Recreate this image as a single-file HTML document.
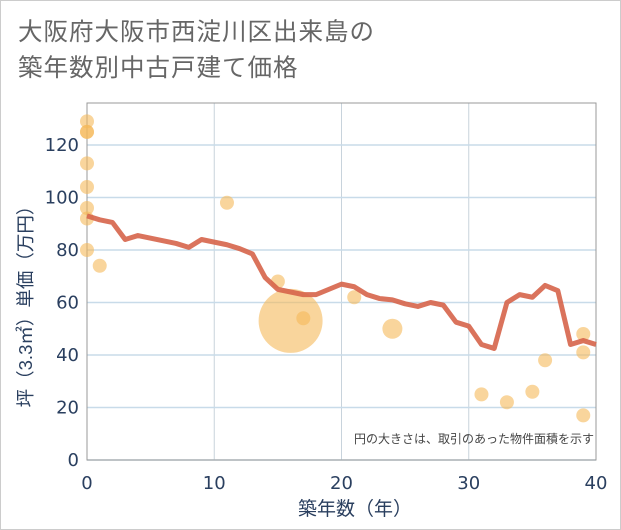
<!DOCTYPE html>
<html><head><meta charset="utf-8"><style>
body{margin:0;background:#fff;}
#wrap{width:619px;height:528px;border:1px solid #ccc;position:relative;background:#fff;font-family:"Liberation Sans","Noto Sans CJK JP",sans-serif;}
.title{position:absolute;left:17px;color:#666;font-size:24.5px;letter-spacing:1px;}
</style></head><body>
<div id="wrap">
<div class="title" style="top:12px">大阪府大阪市西淀川区出来島の</div>
<div class="title" style="top:48px">築年数別中古戸建て価格</div>
<svg id="chart" width="621" height="530" style="position:absolute;left:-1px;top:-1px"></svg>
</div>
<script>
const lineYears=[0,1,2,3,4,5,6,7,8,9,10,11,12,13,14,15,16,17,18,19,20,21,22,23,24,25,26,27,28,29,30,31,32,33,34,35,36,37,38,39,40];
const lineValues=[93,91.5,90.5,84,85.5,84.5,83.5,82.5,81,84,83,82,80.5,78.5,69.5,65,64,63,63,65,67,66,63,61.5,61,59.5,58.5,60,59,52.5,51,44,42.5,60,63,62,66.5,64.5,44,45.5,44];
const bubbleYears=[0,0,0,0,0,0,0,0,1,11,15,16,17,21,24,31,33,35,36,39,39,39];
const bubbleValues=[129,125,125,113,104,96,92,80,74,98,68,53,54,62,50,25,22,26,38,48,41,17];
const bubbleRadii=[7,7,7,7,7,7,7,7,7,7,7,32,7,7,10,7,7,7,7,7,7,7];
const xTicks=[0,10,20,30,40];
const yTicks=[0,20,40,60,80,100,120];
const L=87,R=596,T=103,B=460;
const xs=v=>L+(R-L)*v/40;
const ys=v=>B-(B-145)*v/120;
const svg=document.getElementById('chart');
const NS='http://www.w3.org/2000/svg';
const TF='"DejaVu Sans","Liberation Sans",sans-serif';
function mk(t,a){const e=document.createElementNS(NS,t);for(const k in a)e.setAttribute(k,a[k]);svg.appendChild(e);return e;}
xTicks.forEach(t=>{const g=mk('line',{x1:xs(t),x2:xs(t),y1:T,y2:B,stroke:'#c8d3dc','stroke-width':1});

const tx=mk('text',{x:xs(t),y:489,'text-anchor':'middle','font-size':18,fill:'#2a3f5f','font-family':TF});tx.textContent=t;
});
yTicks.forEach(t=>{const g=mk('line',{x1:L,x2:R,y1:ys(t),y2:ys(t),stroke:'#c8dbe9','stroke-width':1.5});

const tx=mk('text',{x:79,y:ys(t)+6,'text-anchor':'end','font-size':18,fill:'#2a3f5f','font-family':TF});tx.textContent=t;
});
const fr=mk('rect',{x:L,y:T,width:R-L,height:B-T,fill:'none',stroke:'#999','stroke-width':1});

bubbleYears.forEach((y,i)=>{const c=mk('circle',{cx:xs(y),cy:ys(bubbleValues[i]),r:bubbleRadii[i],fill:'#f5b95a','fill-opacity':0.6});
});
const p=mk('polyline',{points:lineYears.map((y,i)=>xs(y)+','+ys(lineValues[i])).join(' '),fill:'none',stroke:'#d6644a','stroke-opacity':0.9,'stroke-width':5,'stroke-linejoin':'round'});

const note=mk('text',{x:594,y:443,'text-anchor':'end','font-size':12,fill:'#444'});note.textContent='円の大きさは、取引のあった物件面積を示す';

const xt=mk('text',{x:355,y:515,'text-anchor':'middle','font-size':19,fill:'#2a3f5f'});xt.textContent='築年数（年）';

const yt=mk('text',{x:0,y:0,'text-anchor':'middle','font-size':18.5,fill:'#2a3f5f',transform:'translate(32,302) rotate(-90)'});yt.textContent='坪（3.3㎡）単価（万円）';

</script>
</body></html>
